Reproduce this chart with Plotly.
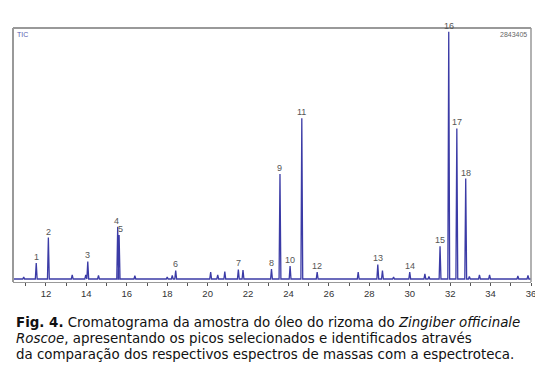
import numpy as np
import plotly.graph_objects as go

# Labelled peaks: number, retention time (min), relative height (% of full scale)
peak_ids = ["1", "2", "3", "4", "5", "6", "7", "8", "9", "10", "11", "12", "13", "14", "15", "16", "17", "18"]
peak_rt = [11.52, 12.12, 14.07, 15.55, 15.62, 18.42, 21.52, 23.16, 23.58, 24.08, 24.66, 25.42, 28.42, 30.0, 31.5, 31.93, 32.33, 32.77]
peak_h = [6.4, 16.5, 7.0, 20.8, 17.5, 3.4, 3.8, 4.0, 41.8, 5.2, 64.0, 2.8, 5.8, 2.8, 13.0, 98.5, 60.0, 40.0]

# Unlabelled minor peaks
minor_rt = [10.9, 13.3, 13.97, 14.6, 16.4, 18.0, 18.25, 20.15, 20.5, 20.85, 21.75, 27.45, 28.65, 29.2, 30.75, 30.95, 32.95, 33.45, 33.95, 35.35, 35.85]
minor_h = [0.8, 1.6, 1.6, 1.4, 1.3, 0.8, 1.4, 2.8, 1.6, 3.0, 3.6, 2.8, 3.4, 0.8, 2.0, 1.0, 1.0, 1.6, 1.6, 1.2, 1.4]

x_start, x_end = 10.37, 36.0
full_scale = "2843405"

# Build chromatogram polyline from the peak table
all_rt = peak_rt + minor_rt
all_h = peak_h + minor_h
order = np.argsort(all_rt)
xs = [x_start]
ys = [0.0]
hw = 0.045
for i in order:
    rt, h = all_rt[i], all_h[i]
    xs += [rt - hw, rt, rt + hw]
    ys += [0.0, h, 0.0]
xs.append(x_end)
ys.append(0.0)

line_color = "#3b3ba6"

fig = go.Figure()
fig.add_trace(go.Scatter(x=xs, y=ys, mode="lines",
                         line=dict(color=line_color, width=1.3),
                         hoverinfo="skip", showlegend=False))

annotations = []
for pid, rt, h in zip(peak_ids, peak_rt, peak_h):
    xshift = 0
    if pid == "4":
        xshift = -1
    if pid == "5":
        xshift = 1
    annotations.append(dict(x=rt, y=h, text=pid, showarrow=False, yanchor="bottom",
                            xshift=xshift, yshift=-1,
                            font=dict(family="Liberation Sans, Arial", size=9, color="#555555")))

annotations.append(dict(xref="paper", yref="paper", x=0.0, y=1.0, xanchor="left", yanchor="top",
                        xshift=2, yshift=-1, text="TIC", showarrow=False,
                        font=dict(family="Liberation Sans, Arial", size=7, color="#5a5ab0")))
annotations.append(dict(xref="paper", yref="paper", x=1.0, y=1.0, xanchor="right", yanchor="top",
                        xshift=-2, yshift=-1, text=full_scale, showarrow=False,
                        font=dict(family="Liberation Sans, Arial", size=7, color="#666666")))

caption = [
    "<b>Fig. 4.</b> Cromatograma da amostra do óleo do rizoma do <i>Zingiber officinale</i>",
    "<i>Roscoe</i>, apresentando os picos selecionados e identificados através",
    "da comparação dos respectivos espectros de massas com a espectroteca.",
]
for k, line in enumerate(caption):
    annotations.append(dict(xref="paper", yref="paper", x=0, y=0, xanchor="left", yanchor="middle",
                            xshift=1, yshift=-(40 + 16 * k), text=line, showarrow=False, align="left",
                            font=dict(family="DejaVu Sans, Verdana", size=13.4, color="#111111")))

# The page body has an 8px default margin, so the figure is sized/offset to compensate
fig.update_layout(
    width=535, height=365,
    margin=dict(l=5, r=12, t=20, b=91),
    paper_bgcolor="white", plot_bgcolor="white",
    annotations=annotations,
    xaxis=dict(range=[x_start, x_end], showgrid=False, zeroline=False,
               tickmode="array", tickvals=list(range(12, 37, 2)),
               ticktext=[str(v) for v in range(12, 37, 2)],
               ticks="outside", ticklen=3, tickcolor="#555555",
               minor=dict(tickvals=list(range(11, 36, 2)), ticks="outside", ticklen=3, tickcolor="#555555"),
               tickfont=dict(family="Liberation Sans, Arial", size=9.5, color="#333333"),
               showline=True, linecolor="#999999", linewidth=1, mirror=False),
    yaxis=dict(range=[-1.2, 100], showgrid=False, zeroline=False, showticklabels=False,
               ticks="", showline=False),
    shapes=[
        dict(type="line", xref="paper", yref="paper", x0=0, x1=0, y0=0, y1=1,
             line=dict(color="#999999", width=2)),
        dict(type="line", xref="paper", yref="paper", x0=0, x1=1, y0=1, y1=1,
             line=dict(color="#999999", width=2)),
        dict(type="line", xref="paper", yref="paper", x0=1, x1=1, y0=0, y1=1,
             line=dict(color="#999999", width=1.5)),
    ],
)

fig.write_html("out.html")
